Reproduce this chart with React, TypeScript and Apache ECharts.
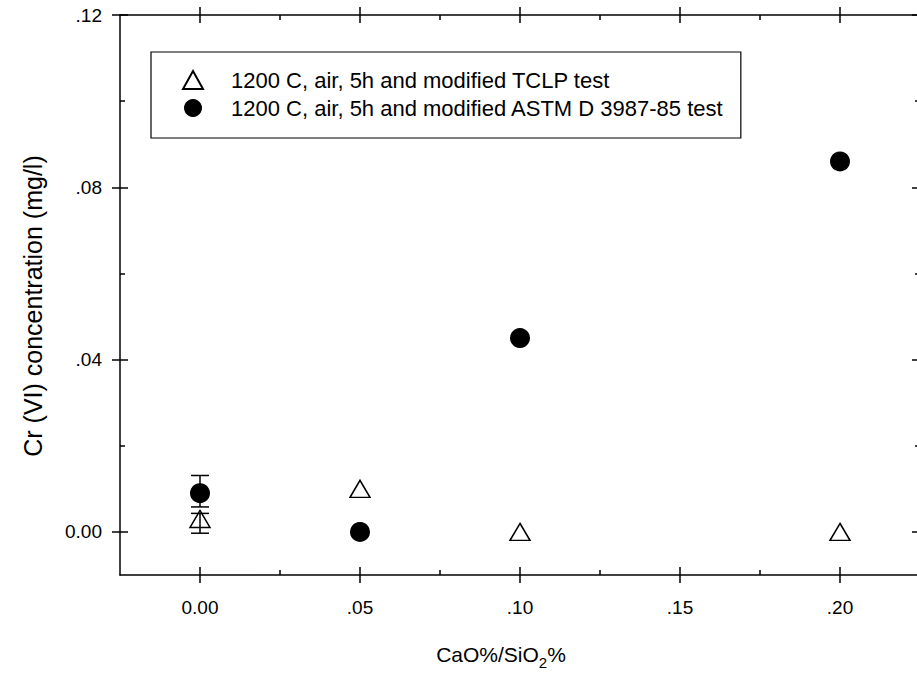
import React, { useEffect, useRef } from "react";
import * as echarts from "echarts";

const xMajor = [0, 0.05, 0.1, 0.15, 0.2];
const xMinor = [0.025, 0.075, 0.125, 0.175];
const yMajor = [0, 0.04, 0.08, 0.12];
const yMinor = [0.02, 0.06, 0.1];

const seriesNames = [
  "1200 C, air, 5h and modified TCLP test",
  "1200 C, air, 5h and modified ASTM D 3987-85 test",
];
const ratioX = [0, 0.05, 0.1, 0.2];
const tclpY = [0.003, 0.010, 0, 0];
const astmY = [0.009, 0, 0.045, 0.086];
// error bars at x = 0: low / high ends
const errX = [0, 0];
const errLow = [-0.0003, 0.0058];
const errHigh = [0.0043, 0.0131];

const FONT = "'Liberation Sans', Arial, Helvetica, sans-serif";
const BLACK = "#000";

const fmt = (v: number) => {
  if (Math.abs(v) < 1e-9) return "0.00";
  const s = v.toFixed(2);
  return s.slice(s.indexOf("."));
};

function makeAxes(dim: "x" | "y", min: number, max: number, major: number[], minor: number[]) {
  const posA = dim === "x" ? "bottom" : "left";
  const posB = dim === "x" ? "top" : "right";
  const base = (position: string, extra: any) => ({
    type: "value",
    min,
    max,
    position,
    splitLine: { show: false },
    axisLine: { show: false, onZero: false, lineStyle: { color: BLACK, width: 1.5 } },
    axisLabel: { show: false },
    axisTick: { show: false },
    ...extra,
  });
  const tick = (vals: number[], len: number, inside: boolean) => ({
    show: true,
    customValues: vals,
    length: len,
    inside,
    lineStyle: { color: BLACK, width: 1.5 },
  });
  return [
    base(posA, {
      axisLine: { show: true, onZero: false, lineStyle: { color: BLACK, width: 1.5 } },
      axisTick: tick(major, 8, false),
      axisLabel: {
        show: true,
        customValues: major,
        formatter: (v: number) => fmt(v),
        fontSize: 19,
        color: BLACK,
        fontFamily: FONT,
        margin: dim === "x" ? 23 : 18,
      },
    }),
    base(posA, { axisTick: tick(major, 8, true) }),
    base(posA, { axisTick: tick(minor, 5, true) }),
    base(posB, {
      axisLine: { show: true, onZero: false, lineStyle: { color: BLACK, width: 1.5 } },
      axisTick: tick(major, 8, false),
    }),
    base(posB, { axisTick: tick(major, 8, true) }),
    base(posB, { axisTick: tick(minor, 5, true) }),
  ];
}

export default function App() {
  const ref = useRef<HTMLDivElement>(null);
  useEffect(() => {
    if (!ref.current) return;
    const chart = echarts.init(ref.current, null, { renderer: "svg" });
    const xAxes: any[] = makeAxes("x", -0.025, 0.225, xMajor, xMinor);
    const yAxes: any[] = makeAxes("y", -0.01, 0.12, yMajor, yMinor);
    xAxes[0].name = "CaO%/SiO{sub|2}%";
    xAxes[0].nameLocation = "middle";
    xAxes[0].nameGap = 68;
    xAxes[0].nameTextStyle = {
      fontSize: 21,
      color: BLACK,
      fontFamily: FONT,
      verticalAlign: "top",
      lineHeight: 23,
      padding: [0, 38, 0, 0],
      rich: {
        sub: { fontSize: 15, lineHeight: 15, padding: [12, 0, 0, 0], verticalAlign: "top", fontFamily: FONT, color: BLACK },
      },
    };
    yAxes[0].name = "Cr (VI) concentration (mg/l)";
    yAxes[0].nameLocation = "middle";
    yAxes[0].nameRotate = 90;
    yAxes[0].nameGap = 75;
    yAxes[0].nameTextStyle = { fontSize: 25, color: BLACK, fontFamily: FONT, padding: [0, 22, 0, 0] };

    const errData = errX.map((x, i) => [x, errLow[i], errHigh[i]]);

    chart.setOption({
      animation: false,
      backgroundColor: "#fff",
      textStyle: { fontFamily: FONT },
      grid: { left: 120, right: 0, top: 15, bottom: 102, containLabel: false, outerBoundsMode: "none" },
      xAxis: xAxes,
      yAxis: yAxes,
      legend: {
        data: seriesNames,
        orient: "vertical",
        left: 151,
        top: 52,
        padding: [17, 17, 19, 31],
        itemGap: 6,
        itemWidth: 20,
        itemHeight: 18,
        borderColor: BLACK,
        borderWidth: 1.2,
        backgroundColor: "#fff",
        textStyle: { fontSize: 22, color: BLACK, fontFamily: FONT, padding: [0, 0, 0, 23] },
        selectedMode: false,
      },
      series: [
        {
          name: seriesNames[0],
          type: "scatter",
          symbol: "triangle",
          symbolSize: [20, 17],
          itemStyle: { color: "#fff", borderColor: BLACK, borderWidth: 1.5, opacity: 1 },
          data: ratioX.map((x, i) => [x, tclpY[i]]),
          z: 2,
        },
        {
          name: seriesNames[1],
          type: "scatter",
          symbol: "circle",
          symbolSize: 20,
          itemStyle: { color: BLACK, opacity: 1 },
          data: ratioX.map((x, i) => [x, astmY[i]]),
          z: 3,
        },
        {
          name: "err",
          type: "custom",
          z: 4,
          data: errData,
          renderItem: (_params: any, api: any) => {
            const x = api.value(0);
            const lo = api.coord([x, api.value(1)]);
            const hi = api.coord([x, api.value(2)]);
            const hw = 9;
            const style = { stroke: BLACK, lineWidth: 1.5 };
            return {
              type: "group",
              children: [
                { type: "line", shape: { x1: lo[0], y1: lo[1], x2: hi[0], y2: hi[1] }, style },
                { type: "line", shape: { x1: lo[0] - hw, y1: lo[1], x2: lo[0] + hw, y2: lo[1] }, style },
                { type: "line", shape: { x1: hi[0] - hw, y1: hi[1], x2: hi[0] + hw, y2: hi[1] }, style },
              ],
            };
          },
        },
      ],
    });
    return () => chart.dispose();
  }, []);
  return (
    <div
      ref={ref}
      style={{ position: "fixed", left: 0, top: 0, width: 920, height: 677, background: "#fff" }}
    />
  );
}
